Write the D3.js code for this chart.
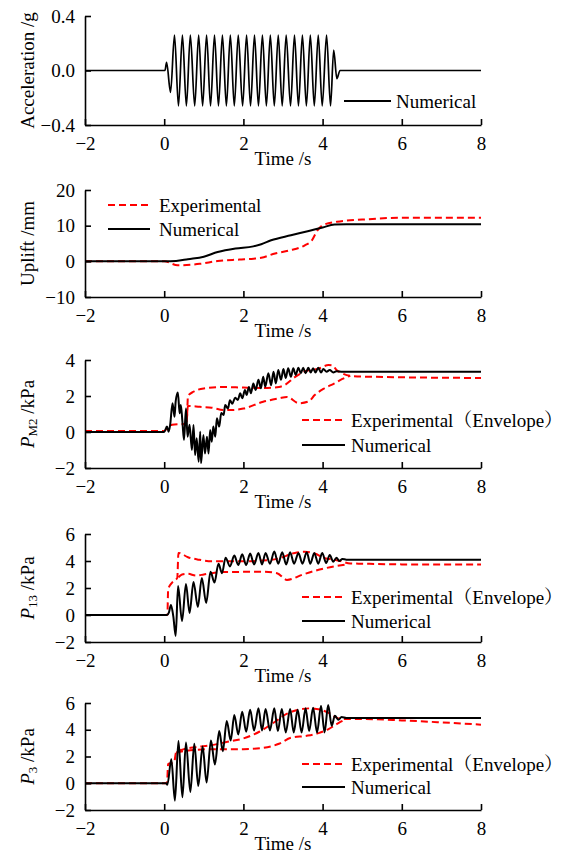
<!DOCTYPE html>
<html><head><meta charset="utf-8">
<script src="https://cdn.jsdelivr.net/npm/d3@7/dist/d3.min.js"></script>
<style>
html,body{margin:0;padding:0;background:#fff;}
svg{display:block;}
</style></head>
<body>
<svg id="chart" width="570" height="854"></svg>
<script>
// ---------- DATA ----------
const xTickValues = [-2, 0, 2, 4, 6, 8];

// Panel 1: acceleration (peaks / troughs)
const accT = [-2, 0.02, 0.06, 0.16, 0.26, 0.36, 0.46, 0.56, 0.66, 0.77, 0.87, 0.97, 1.07, 1.17, 1.27, 1.37, 1.47, 1.57, 1.67, 1.77, 1.87, 1.98, 2.08, 2.18, 2.28, 2.38, 2.48, 2.58, 2.68, 2.78, 2.88, 2.98, 3.08, 3.19, 3.29, 3.39, 3.49, 3.59, 3.69, 3.79, 3.89, 3.99, 4.10, 4.20, 4.28, 4.36, 4.44, 8];
const accV = [0, 0, 0.06, -0.16, 0.26, -0.26, 0.26, -0.26, 0.26, -0.26, 0.26, -0.26, 0.26, -0.26, 0.26, -0.26, 0.26, -0.26, 0.26, -0.26, 0.26, -0.26, 0.26, -0.26, 0.26, -0.26, 0.26, -0.26, 0.26, -0.26, 0.26, -0.26, 0.26, -0.26, 0.26, -0.26, 0.26, -0.26, 0.26, -0.26, 0.26, -0.26, 0.26, -0.26, 0.15, -0.06, 0, 0];
const accTicks = [-0.4, 0, 0.4];
const accTickLabels = ["\u22120.4", "0.0", "0.4"];

// Panel 2: uplift
const uplNumT = [-2, 0, 0.3, 0.6, 1.0, 1.35, 1.8, 2.25, 2.45, 2.7, 3.2, 3.65, 4.0, 4.3, 4.6, 8];
const uplNumV = [0, 0, 0.1, 0.6, 1.3, 2.6, 3.6, 4.2, 4.8, 5.9, 7.3, 8.5, 9.5, 10.3, 10.4, 10.4];
const uplExpT = [-2, 0, 0.34, 0.9, 1.35, 1.9, 2.26, 2.45, 2.8, 3.18, 3.55, 3.73, 3.87, 4.0, 4.36, 5.0, 5.9, 8];
const uplExpV = [0, 0, -1.1, -0.7, 0.1, 0.5, 0.75, 1.0, 2.2, 3.1, 4.5, 5.9, 8.7, 10.1, 11.1, 11.7, 12.2, 12.2];
const uplTicks = [-10, 0, 10, 20];
const uplTickLabels = ["\u221210", "0", "10", "20"];

// Panel 3: P_M2
const pm2NumT = [-2, 0, 0.07, 0.11, 0.15, 0.21, 0.26, 0.29, 0.345, 0.39, 0.42, 0.46, 0.50, 0.55, 0.59, 0.64, 0.70, 0.74, 0.78, 0.82, 0.87, 0.91, 0.93, 0.99, 1.03, 1.08, 1.12, 1.16, 1.20, 1.24, 1.29, 1.33, 1.39, 1.44, 1.50, 1.54, 1.61, 1.66, 1.72, 1.79, 1.86, 1.92, 1.97, 2.04, 2.08, 2.14, 2.19, 2.25, 2.31, 2.38, 2.44, 2.50, 2.55, 2.63, 2.70, 2.76, 2.82, 2.88, 2.95, 3.01, 3.07, 3.13, 3.20, 3.26, 3.32, 3.39, 3.45, 3.51, 3.57, 3.64, 3.70, 3.76, 3.82, 3.89, 3.96, 4.02, 4.10, 4.18, 4.27, 4.35, 4.5, 8];
const pm2NumV = [0, 0, 0.30, 0.02, 0.39, 1.6, 0.85, 1.7, 2.2, 1.04, 1.5, 0.57, -0.44, 1.3, -0.26, 0.4, -1.0, 0.39, -1.28, -0.35, -1.65, 0.02, -1.74, -0.17, -1.2, -0.26, -1.2, 0.11, -0.54, 0.3, -0.26, 0.76, 0.3, 1.06, 0.94, 1.5, 1.3, 1.76, 1.57, 1.9, 1.78, 2.15, 1.87, 2.33, 2.05, 2.5, 2.15, 2.7, 2.33, 2.9, 2.43, 3.07, 2.52, 3.26, 2.6, 3.35, 2.7, 3.44, 2.9, 3.5, 3.0, 3.54, 3.07, 3.54, 3.17, 3.57, 3.26, 3.57, 3.26, 3.57, 3.31, 3.54, 3.31, 3.57, 3.31, 3.5, 3.35, 3.44, 3.31, 3.37, 3.35, 3.35];
const pm2UpT = [-2, 0, 0.1, 0.2, 0.5, 0.57, 0.6, 0.75, 1.0, 1.5, 2.0, 2.5, 2.9, 3.05, 3.3, 3.6, 3.9, 4.15, 4.25, 4.35, 4.5, 4.7, 5.0, 8];
const pm2UpV = [0.05, 0.05, 0.3, 0.4, 0.45, 0.6, 2.0, 2.25, 2.42, 2.5, 2.47, 2.45, 2.5, 2.62, 3.05, 3.4, 3.52, 3.72, 3.7, 3.45, 3.25, 3.12, 3.08, 3.0];
const pm2LoT = [0.57, 0.6, 0.9, 1.2, 1.5, 1.7, 2.0, 2.5, 2.9, 3.1, 3.4, 3.65, 3.8, 4.05, 4.3, 4.5, 4.7];
const pm2LoV = [0.6, 1.45, 1.4, 1.35, 1.22, 1.22, 1.3, 1.68, 1.87, 1.95, 1.6, 1.7, 2.05, 2.43, 2.7, 2.95, 3.12];
const pm2Ticks = [-2, 0, 2, 4];
const pm2TickLabels = ["\u22122", "0", "2", "4"];

// Panel 4: P_13
const p13NumT = [-2, 0.07, 0.12, 0.17, 0.23, 0.29, 0.35, 0.45, 0.55, 0.64, 0.74, 0.85, 0.95, 1.06, 1.17, 1.27, 1.37, 1.46, 1.55, 1.66, 1.77, 1.87, 1.97, 2.07, 2.17, 2.27, 2.38, 2.47, 2.56, 2.67, 2.78, 2.88, 2.98, 3.08, 3.18, 3.28, 3.39, 3.49, 3.60, 3.69, 3.79, 3.89, 3.99, 4.09, 4.18, 4.27, 4.35, 4.42, 4.5, 4.6, 8];
const p13NumV = [0, 0, 0.2, 0.75, -0.1, -1.55, 2.15, -0.45, 2.3, 0.15, 2.45, 0.6, 2.75, 0.9, 3.2, 2.4, 3.8, 3.1, 4.25, 3.6, 4.4, 3.7, 4.5, 3.7, 4.55, 3.75, 4.6, 3.75, 4.6, 3.8, 4.7, 3.8, 4.65, 3.75, 4.65, 3.8, 4.6, 3.8, 4.65, 3.8, 4.6, 3.8, 4.6, 3.85, 4.45, 3.95, 4.25, 4.0, 4.15, 4.1, 4.1];
const p13UpT = [-2, 0.08, 0.1, 0.2, 0.33, 0.36, 0.6, 0.87, 1.2, 2.0, 2.46, 2.88, 3.3, 3.55, 3.8, 4.06, 4.31, 4.5, 4.7, 5.0, 6.0, 8];
const p13UpV = [0, 0, 1.9, 2.4, 2.75, 4.6, 4.28, 4.1, 3.98, 3.98, 4.03, 4.18, 4.6, 4.68, 4.55, 4.2, 4.1, 3.95, 3.82, 3.8, 3.75, 3.75];
const p13LoT = [0.36, 0.45, 0.6, 0.8, 1.0, 1.2, 1.5, 2.5, 2.85, 3.1, 3.5, 3.9, 4.3, 4.6];
const p13LoV = [2.8, 3.0, 3.05, 2.92, 3.0, 3.1, 3.18, 3.2, 3.1, 2.6, 3.0, 3.35, 3.6, 3.75];
const p13Ticks = [-2, 0, 2, 4, 6];
const p13TickLabels = ["\u22122", "0", "2", "4", "6"];

// Panel 5: P_3
const p3NumT = [-2, 0.05, 0.08, 0.18, 0.27, 0.36, 0.46, 0.55, 0.66, 0.76, 0.86, 0.97, 1.07, 1.18, 1.28, 1.39, 1.48, 1.58, 1.68, 1.77, 1.87, 1.97, 2.07, 2.17, 2.27, 2.38, 2.47, 2.56, 2.67, 2.78, 2.87, 2.97, 3.07, 3.18, 3.27, 3.37, 3.47, 3.57, 3.66, 3.76, 3.86, 3.96, 4.05, 4.14, 4.23, 4.31, 4.4, 4.48, 4.6, 8];
const p3NumV = [0, 0, -0.12, 1.8, -1.3, 3.15, -1.05, 3.05, -0.65, 2.95, -0.2, 2.75, 0.05, 3.2, 1.4, 3.9, 2.4, 4.65, 3.2, 5.1, 3.65, 5.35, 3.85, 5.5, 3.95, 5.6, 3.95, 5.55, 3.95, 5.6, 3.9, 5.55, 3.8, 5.55, 3.8, 5.5, 3.8, 5.6, 3.9, 5.65, 3.8, 5.8, 3.8, 5.85, 4.3, 5.05, 4.75, 4.95, 4.88, 4.88];
const p3UpT = [-2, 0.07, 0.1, 0.25, 0.3, 0.5, 0.8, 1.2, 1.6, 2.0, 2.4, 2.8, 3.1, 3.4, 3.7, 3.95, 4.2, 4.4, 4.6, 5.0, 6.0, 7.0, 8.0];
const p3UpV = [0, 0, 1.45, 1.55, 2.3, 2.55, 2.7, 2.85, 3.1, 3.35, 3.85, 4.6, 5.2, 5.5, 5.6, 5.5, 5.2, 4.85, 4.8, 4.8, 4.7, 4.55, 4.38];
const p3LoT = [0.3, 0.5, 0.8, 1.2, 1.6, 2.0, 2.5, 2.9, 3.2, 3.6, 3.9, 4.15, 4.4, 4.6];
const p3LoV = [2.3, 2.4, 2.5, 2.55, 2.55, 2.55, 2.65, 2.95, 3.4, 3.55, 3.75, 4.05, 4.5, 4.8];
const p3Ticks = [-2, 0, 2, 4, 6];
const p3TickLabels = ["\u22122", "0", "2", "4", "6"];

const legendNum = "Numerical";
const legendExp = "Experimental";
const legendEnv = "Experimental\uFF08Envelope\uFF09";
const xTitle = "Time /s";

// ---------- DRAWING ----------
const FONT = "'Liberation Serif','Times New Roman',Times,'Noto Serif CJK SC','Noto Sans CJK SC',serif";
const FS = 19;
const svg = d3.select("#chart");
svg.append("rect").attr("width", 570).attr("height", 854).attr("fill", "#fff");

const X0 = 85, X1 = 481;
const x = d3.scaleLinear().domain([-2, 8]).range([X0, X1]);

function zip(t, v) { return t.map((d, i) => [d, v[i]]); }

function drawPanel(cfg) {
  const y = d3.scaleLinear().domain(cfg.domain).range([cfg.bottom, cfg.top]);
  const g = svg.append("g");

  const line = d3.line().x(d => x(d[0])).y(d => y(d[1])).curve(d3.curveMonotoneX);
  cfg.series.forEach(s => {
    g.append("path").datum(zip(s.t, s.v))
      .attr("d", line)
      .attr("fill", "none")
      .attr("stroke", s.color)
      .attr("stroke-width", s.width)
      .attr("stroke-linejoin", "round")
      .attr("stroke-dasharray", s.dash || null);
  });

  const xAxis = d3.axisBottom(x).tickValues(xTickValues).tickSizeInner(-6).tickSizeOuter(0).tickPadding(12)
    .tickFormat(d => d < 0 ? "\u2212" + Math.abs(d) : String(d));
  const ax = g.append("g").attr("transform", `translate(0,${cfg.bottom})`).call(xAxis);
  const yAxis = d3.axisLeft(y).tickValues(cfg.ticks).tickSizeInner(-6).tickSizeOuter(0).tickPadding(10)
    .tickFormat((d, i) => cfg.tickLabels[i]);
  const ay = g.append("g").attr("transform", `translate(${X0},0)`).call(yAxis);
  [ax, ay].forEach(a => {
    a.select(".domain").attr("stroke", "#000").attr("stroke-width", 1.6);
    a.selectAll(".tick line").attr("stroke", "#000").attr("stroke-width", 1.6);
    a.selectAll("text").attr("font-family", FONT).attr("font-size", FS).attr("fill", "#000");
  });

  // x title (baseline placed explicitly)
  g.append("text").attr("x", (X0 + X1) / 2).attr("y", cfg.bottom + 40)
    .attr("text-anchor", "middle")
    .attr("font-family", FONT).attr("font-size", FS).text(xTitle);

  const cy = (cfg.top + cfg.bottom) / 2;
  const yt = g.append("text").attr("x", 27).attr("y", cy)
    .attr("transform", `rotate(-90,27,${cy})`)
    .attr("text-anchor", "middle").attr("dominant-baseline", "central")
    .attr("font-family", FONT).attr("font-size", FS);
  if (cfg.ylabel.sub) {
    yt.append("tspan").attr("font-style", "italic").text("P");
    yt.append("tspan").attr("font-size", 13).attr("dy", 5).text(cfg.ylabel.sub);
    yt.append("tspan").attr("dy", -5).text(" /kPa");
  } else {
    yt.text(cfg.ylabel.text);
  }

  cfg.legend.forEach(l => {
    g.append("line").attr("x1", l.x1).attr("x2", l.x2).attr("y1", l.y).attr("y2", l.y)
      .attr("stroke", l.color).attr("stroke-width", 2).attr("stroke-dasharray", l.dash || null);
    g.append("text").attr("x", l.tx).attr("y", l.y).attr("dominant-baseline", "central")
      .attr("font-family", FONT).attr("font-size", FS).text(l.text);
  });
}

const RED = "#ff0000", DASH = "7,4";

drawPanel({
  top: 16, bottom: 125, domain: [-0.4, 0.4], ticks: accTicks, tickLabels: accTickLabels,
  ylabel: { text: "Acceleration /g" },
  series: [{ t: accT, v: accV, color: "#000", width: 1.7 }],
  legend: [{ x1: 344, x2: 391, y: 101, tx: 396, text: legendNum, color: "#000" }]
});

drawPanel({
  top: 190, bottom: 297, domain: [-10, 20], ticks: uplTicks, tickLabels: uplTickLabels,
  ylabel: { text: "Uplift /mm" },
  series: [
    { t: uplExpT, v: uplExpV, color: RED, width: 2, dash: DASH },
    { t: uplNumT, v: uplNumV, color: "#000", width: 2 }
  ],
  legend: [
    { x1: 108, x2: 150, y: 205, tx: 159, text: legendExp, color: RED, dash: DASH },
    { x1: 108, x2: 150, y: 229, tx: 159, text: legendNum, color: "#000" }
  ]
});

drawPanel({
  top: 360, bottom: 468, domain: [-2, 4], ticks: pm2Ticks, tickLabels: pm2TickLabels,
  ylabel: { sub: "M2" },
  series: [
    { t: pm2UpT, v: pm2UpV, color: RED, width: 2, dash: DASH },
    { t: pm2LoT, v: pm2LoV, color: RED, width: 2, dash: DASH },
    { t: pm2NumT, v: pm2NumV, color: "#000", width: 2 }
  ],
  legend: [
    { x1: 302, x2: 345, y: 420, tx: 351, text: legendEnv, color: RED, dash: DASH },
    { x1: 302, x2: 345, y: 445, tx: 351, text: legendNum, color: "#000" }
  ]
});

drawPanel({
  top: 534, bottom: 642, domain: [-2, 6], ticks: p13Ticks, tickLabels: p13TickLabels,
  ylabel: { sub: "13" },
  series: [
    { t: p13UpT, v: p13UpV, color: RED, width: 2, dash: DASH },
    { t: p13LoT, v: p13LoV, color: RED, width: 2, dash: DASH },
    { t: p13NumT, v: p13NumV, color: "#000", width: 2 }
  ],
  legend: [
    { x1: 302, x2: 345, y: 597, tx: 351, text: legendEnv, color: RED, dash: DASH },
    { x1: 302, x2: 345, y: 621, tx: 351, text: legendNum, color: "#000" }
  ]
});

drawPanel({
  top: 703, bottom: 810, domain: [-2, 6], ticks: p3Ticks, tickLabels: p3TickLabels,
  ylabel: { sub: "3" },
  series: [
    { t: p3UpT, v: p3UpV, color: RED, width: 2, dash: DASH },
    { t: p3LoT, v: p3LoV, color: RED, width: 2, dash: DASH },
    { t: p3NumT, v: p3NumV, color: "#000", width: 2 }
  ],
  legend: [
    { x1: 302, x2: 345, y: 764, tx: 351, text: legendEnv, color: RED, dash: DASH },
    { x1: 302, x2: 345, y: 787, tx: 351, text: legendNum, color: "#000" }
  ]
});
</script>
</body></html>
